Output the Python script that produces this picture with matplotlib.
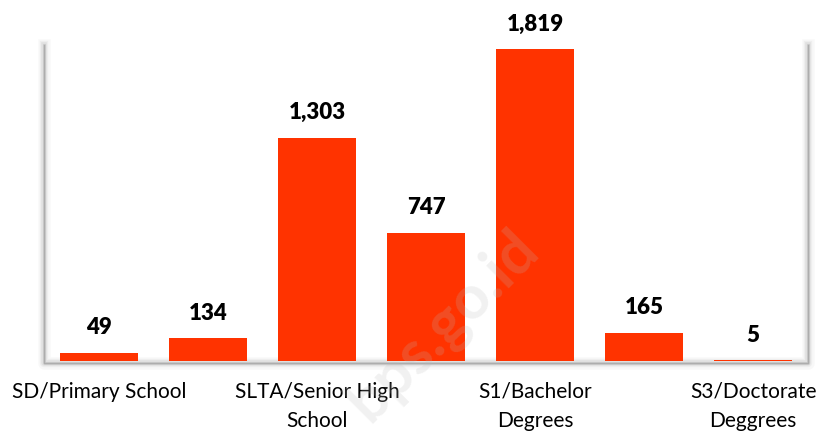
import matplotlib
matplotlib.use("Agg")
import matplotlib.pyplot as plt

categories = ["SD/Primary School", "SMP/Junior High School", "SLTA/Senior High\nSchool",
              "Diploma", "S1/Bachelor\nDegrees", "S2/Master Degrees", "S3/Doctorate\nDeggrees"]
values = [49, 134, 1303, 747, 1819, 165, 5]
shown_ticks = [0, 2, 4, 6]

plt.rcParams['font.family'] = ['Lato', 'DejaVu Sans']

fig = plt.figure(figsize=(8.2, 4.34), dpi=100)
ax = fig.add_axes([0.054, 0.168, 0.931, 0.774])

x = list(range(len(values)))
ax.bar(x, values, width=0.71, color="#FF3300", zorder=3)
for xi, v in zip(x, values):
    ax.annotate(f"{v:,}", (xi, v), xytext=(0, 10.5), textcoords="offset points",
                ha="center", va="bottom", fontsize=16, fontweight="heavy", color="black")

ax.set_xlim(-0.5, 6.5)
ax.set_ylim(0, 1960)
ax.set_yticks([])
ax.set_xticks(shown_ticks)
ax.set_xticklabels([categories[i] for i in shown_ticks], fontsize=15, linespacing=1.55)
ax.tick_params(axis="x", length=0, pad=15)
for s in ax.spines.values():
    s.set_visible(False)

# soft shadow frame
for lw, a in [(9, 0.05), (6, 0.08), (4, 0.12), (2, 0.2), (1, 0.4)]:
    ax.plot([0, 0, 1, 1], [0.94, -0.005, -0.005, 0.94], transform=ax.transAxes,
            color="gray", lw=lw, alpha=a, clip_on=False, zorder=1,
            solid_joinstyle="round")

# watermark
fig.text(0.54, 0.25, "bps.go.id", rotation=45, fontsize=44, fontweight="bold",
         color="#bbbbbb", alpha=0.2, ha="center", va="center")

fig.savefig("out.png", dpi=100)
